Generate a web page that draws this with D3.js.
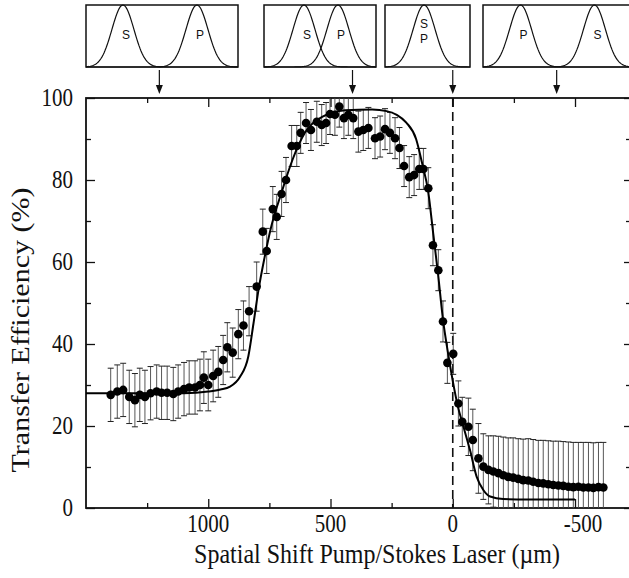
<!DOCTYPE html>
<html>
<head>
<meta charset="utf-8">
<script src="https://cdn.jsdelivr.net/npm/d3@7"></script>
<style>
  body { margin: 0; background: #fff; }
  svg { display: block; background: #fff; }
</style>
</head>
<body>
<svg id="chart"></svg>
<script>
// measured points: spatial shift (um), transfer efficiency (%), error (%)
const shift = [1399, 1372, 1348, 1323, 1300, 1280, 1259, 1236, 1211, 1191, 1168, 1143, 1123, 1099,
  1078, 1054, 1034, 1018, 1000, 980, 959, 939, 922, 900, 877, 856, 833, 802, 777, 761, 736, 720,
  700, 682, 659, 638, 622, 600, 580, 556, 536, 518, 502, 482, 464, 445, 427, 407, 386, 366, 345,
  318, 297, 277, 257, 236, 218, 199, 178, 158, 137, 120, 100, 81, 59, 40, 22, -2, -23, -39, -64,
  -82, -105, -125, -146, -166, -187, -207, -227, -247, -268, -288, -309, -329, -350, -370, -391,
  -411, -432, -452, -473, -493, -514, -534, -555, -575, -596, -616];
const eff = [27.6, 28.4, 28.8, 27.1, 26.3, 27.6, 27.1, 28.0, 28.4, 28.1, 28.1, 27.8, 28.4, 29.0,
  29.4, 29.4, 30.0, 31.8, 30.0, 32.2, 33.2, 36.1, 39.2, 37.9, 42.4, 44.5, 48.0, 54.0, 67.4, 62.7,
  72.9, 71.0, 76.6, 80.0, 88.3, 88.3, 91.5, 93.9, 92.2, 94.2, 93.4, 93.9, 96.1, 95.9, 97.9, 95.1,
  95.9, 95.1, 91.8, 92.2, 92.7, 90.2, 90.6, 92.4, 91.5, 90.2, 87.8, 83.4, 80.7, 81.2, 82.7, 82.7,
  78.0, 64.1, 58.0, 45.5, 35.4, 37.6, 25.5, 21.0, 19.8, 16.6, 12.1, 10.1, 9.3, 8.9, 8.5, 8.0, 7.6,
  7.4, 7.1, 6.8, 6.7, 6.4, 6.1, 6.0, 5.8, 5.6, 5.5, 5.4, 5.2, 5.1, 5.2, 5.0, 5.0, 4.9, 5.1, 5.0];
const err = [6.5, 6.5, 6.5, 6.5, 6.5, 6.5, 6.5, 6.5, 6.5, 6.5, 6.5, 6.5, 6.5, 6.5, 6.5, 6.5, 6.3,
  6.3, 6.3, 6.3, 6.2, 6.0, 6.0, 6.0, 6.0, 6.0, 6.0, 6.0, 5.5, 5.5, 5.5, 5.5, 5.5, 5.5, 5.0, 5.0,
  5.0, 5.0, 5.0, 5.0, 5.0, 5.0, 5.0, 5.0, 5.0, 5.0, 5.0, 5.0, 5.0, 5.0, 5.0, 5.0, 5.0, 5.0, 5.0,
  5.0, 5.0, 5.0, 5.0, 5.0, 5.0, 5.0, 5.0, 5.0, 5.0, 5.0, 5.0, 5.0, 5.5, 6.0, 7.0, 7.5, 8.5, 8.0,
  8.3, 8.7, 9.0, 9.3, 9.5, 9.7, 9.8, 10.0, 10.2, 10.3, 10.4, 10.5, 10.6, 10.7, 10.8, 10.8, 10.9,
  10.9, 10.8, 11.0, 11.0, 11.0, 10.9, 11.0];

// fitted curve
const fitShift = [1500, 1300, 1100, 1000, 950, 911, 870, 836, 815, 795, 770, 745, 700, 655, 605,
  530, 440, 330, 270, 229, 190, 150, 125, 100, 80, 60, 40, 20, 0, -20, -43, -71, -98, -125, -153,
  -206, -300, -500];
const fitEff = [28, 28, 28, 28.4, 28.9, 29.6, 32, 37, 45, 53, 61, 68, 77, 85, 91.5, 95.5, 97,
  97.2, 96.8, 95.9, 94, 90, 84, 77, 67, 57, 46, 38, 31, 25, 20, 14, 7.6, 4.4, 2.8, 2.2, 2.1, 2.1];

const xMajor = [1000, 500, 0, -500];
const xMinor = [1250, 750, 250, -250];
const yMajor = [0, 20, 40, 60, 80, 100];
const yMinor = [10, 30, 50, 70, 90];

// beam overlap sketches above the plot: where each points to, and S/P beam centres
const insetShift = [1200, 410, 0, -425];
const insetBeams = [
  [["S", 0.243], ["P", 0.73]],
  [["S", 0.357], ["P", 0.66]],
  [["S", 0.46], ["P", 0.46]],
  [["P", 0.252], ["S", 0.748]]
];

const width = 629, height = 578;
const margin = { left: 86, right: 631, top: 98, bottom: 508 };
const serif = '"Times New Roman", "Liberation Serif", Times, serif';
const stretch = 1.15; // the scanned lettering is taller than it is wide

const svg = d3.select("#chart").attr("width", width).attr("height", height);

const x = d3.scaleLinear().domain([1500, -729]).range([margin.left, margin.right]);
const y = d3.scaleLinear().domain([0, 100]).range([margin.bottom, margin.top]);

svg.append("clipPath").attr("id", "plotclip")
  .append("rect")
  .attr("x", margin.left).attr("y", margin.top)
  .attr("width", margin.right - margin.left).attr("height", margin.bottom - margin.top);

// tick marks, all pointing inwards
function ticks(axis, values, size) {
  return axis.tickValues(values).tickSizeInner(-size).tickSizeOuter(0).tickFormat("");
}

const gx = svg.append("g").attr("transform", `translate(0,${margin.bottom})`);
gx.append("g").call(ticks(d3.axisBottom(x), xMajor, 9));
gx.append("g").call(ticks(d3.axisBottom(x), xMinor, 5));

const gxt = svg.append("g").attr("transform", `translate(0,${margin.top})`);
gxt.append("g").call(ticks(d3.axisTop(x), xMajor, 9));
gxt.append("g").call(ticks(d3.axisTop(x), xMinor, 5));

const gy = svg.append("g").attr("transform", `translate(${margin.left},0)`);
gy.append("g").call(ticks(d3.axisLeft(y), yMajor, 9));
gy.append("g").call(ticks(d3.axisLeft(y), yMinor, 5));

const gyr = svg.append("g").attr("transform", `translate(${margin.right},0)`);
gyr.append("g").call(ticks(d3.axisRight(y), yMajor, 7));
gyr.append("g").call(ticks(d3.axisRight(y), yMinor, 5));

svg.selectAll(".domain").remove();
svg.selectAll(".tick line").attr("stroke", "#111").attr("stroke-width", 1.3);
svg.selectAll(".tick text").remove();

// tick labels
svg.append("g").selectAll("g")
  .data(xMajor)
  .join("g")
  .attr("transform", (d) => `translate(${x(d) + (d < 0 ? 8 : 0)},532) scale(1,${stretch})`)
  .append("text")
  .attr("text-anchor", "middle")
  .style("font-family", serif).style("font-size", "21px").attr("fill", "#111")
  .text((d) => String(d));

svg.append("g").selectAll("g")
  .data(yMajor)
  .join("g")
  .attr("transform", (d) => `translate(73,${y(d)}) scale(1,${stretch})`)
  .append("text")
  .attr("text-anchor", "end")
  .attr("dy", "0.34em")
  .style("font-family", serif).style("font-size", "21px").attr("fill", "#111")
  .text((d) => String(d));

// frame
svg.append("rect")
  .attr("x", margin.left).attr("y", margin.top)
  .attr("width", margin.right - margin.left).attr("height", margin.bottom - margin.top)
  .attr("fill", "none").attr("stroke", "#111").attr("stroke-width", 1.8);

// dashed zero line
svg.append("line")
  .attr("x1", x(0)).attr("x2", x(0))
  .attr("y1", margin.top).attr("y2", margin.bottom)
  .attr("stroke", "#111").attr("stroke-width", 1.6)
  .attr("stroke-dasharray", "9,5");

const plot = svg.append("g").attr("clip-path", "url(#plotclip)");

const points = shift.map((s, i) => ({ s: s, v: eff[i], e: err[i] }));

// error bars
const bars = plot.append("g");
bars.selectAll("line.bar")
  .data(points)
  .join("line")
  .attr("class", "bar")
  .attr("x1", (d) => x(d.s)).attr("x2", (d) => x(d.s))
  .attr("y1", (d) => y(Math.max(0, d.v - d.e)))
  .attr("y2", (d) => y(d.v + d.e))
  .attr("stroke", "#444").attr("stroke-width", 0.9);
bars.selectAll("line.capTop")
  .data(points)
  .join("line")
  .attr("class", "capTop")
  .attr("x1", (d) => x(d.s) - 3).attr("x2", (d) => x(d.s) + 3)
  .attr("y1", (d) => y(d.v + d.e)).attr("y2", (d) => y(d.v + d.e))
  .attr("stroke", "#222").attr("stroke-width", 1);
bars.selectAll("line.capBot")
  .data(points.filter((d) => d.v - d.e > 0))
  .join("line")
  .attr("class", "capBot")
  .attr("x1", (d) => x(d.s) - 3).attr("x2", (d) => x(d.s) + 3)
  .attr("y1", (d) => y(d.v - d.e)).attr("y2", (d) => y(d.v - d.e))
  .attr("stroke", "#222").attr("stroke-width", 1);

// fit curve
const fit = fitShift.map((s, i) => [s, fitEff[i]]);
plot.append("path")
  .datum(fit)
  .attr("fill", "none")
  .attr("stroke", "#000")
  .attr("stroke-width", 2)
  .attr("d", d3.line().x((d) => x(d[0])).y((d) => y(d[1])).curve(d3.curveMonotoneX));

// data points
plot.append("g").selectAll("circle")
  .data(points)
  .join("circle")
  .attr("cx", (d) => x(d.s)).attr("cy", (d) => y(d.v))
  .attr("r", 4.3)
  .attr("fill", "#000");

// axis titles
svg.append("g")
  .attr("transform", `translate(377,563) scale(1,${stretch})`)
  .append("text")
  .attr("text-anchor", "middle")
  .style("font-family", serif).style("font-size", "24px").attr("fill", "#111")
  .text("Spatial Shift Pump/Stokes Laser (\u00b5m)");

svg.append("g")
  .attr("transform", `translate(29,330) scale(1,1.2) rotate(-90)`)
  .append("text")
  .attr("text-anchor", "middle")
  .style("font-family", serif).style("font-size", "25px").attr("fill", "#111")
  .text("Transfer Efficiency (%)");

// insets
const boxes = [[86, 238], [264, 376], [385, 470], [483, 632]];
const boxTop = 5, boxBottom = 67, sigma = 11;

const insets = svg.append("g");
boxes.forEach((b, i) => {
  const g = insets.append("g");
  const bx = d3.scaleLinear().domain([0, 1]).range(b);
  const by = d3.scaleLinear().domain([0, 1]).range([boxBottom, boxTop]);
  const samples = d3.range(b[0], b[1] + 0.5, 1);
  const beams = insetBeams[i];

  beams.forEach((beam, j) => {
    const c = bx(beam[1]);
    if (j > 0 && beam[1] === beams[0][1]) return;
    g.append("path")
      .datum(samples)
      .attr("fill", "none").attr("stroke", "#111").attr("stroke-width", 1.2)
      .attr("d", d3.line()
        .x((px) => px)
        .y((px) => by(Math.exp(-0.5 * ((px - c) / sigma) ** 2))));
  });

  beams.forEach((beam, j) => {
    const stacked = beams.filter((o) => o[1] === beam[1]).length > 1;
    g.append("text")
      .attr("x", bx(beam[1]) + (stacked ? 0 : 3))
      .attr("y", stacked ? 28 + j * 15 : 39)
      .attr("text-anchor", "middle")
      .style("font-family", '"Liberation Sans", Arial, sans-serif')
      .style("font-size", "12px").attr("fill", "#111")
      .text(beam[0]);
  });

  g.append("rect")
    .attr("x", b[0]).attr("y", boxTop)
    .attr("width", b[1] - b[0]).attr("height", boxBottom - boxTop)
    .attr("fill", "none").attr("stroke", "#111").attr("stroke-width", 1.5);

  // arrow down to the plot
  const ax = x(insetShift[i]);
  g.append("line")
    .attr("x1", ax).attr("x2", ax).attr("y1", boxBottom + 3).attr("y2", 87)
    .attr("stroke", "#111").attr("stroke-width", 1.2);
  g.append("path")
    .attr("d", `M${ax - 3.5},85 L${ax + 3.5},85 L${ax},94 Z`)
    .attr("fill", "#111");
});
</script>
</body>
</html>
